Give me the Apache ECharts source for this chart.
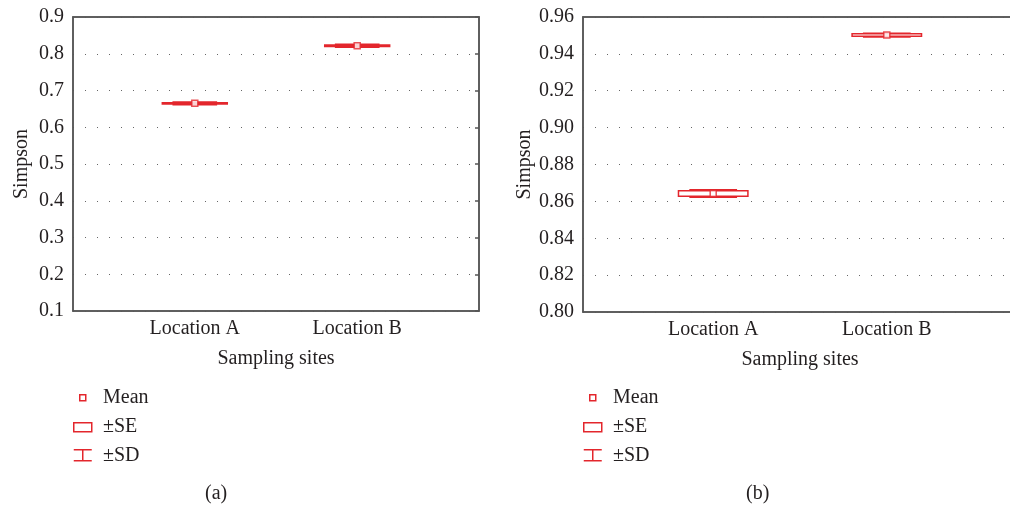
<!DOCTYPE html>
<html>
<head>
<meta charset="utf-8">
<script src="https://cdn.jsdelivr.net/npm/echarts@6/dist/echarts.min.js"></script>
<style>
  html, body { margin: 0; padding: 0; background: #fff; }
  #main { width: 1010px; height: 506px; }
</style>
</head>
<body>
<div id="main"></div>
<script>
// x slots: the two sites sit in the 2nd and 4th of five slots
var slots = ['', 'Location A', ' ', 'Location B', '  '];
var sites = ['Location A', 'Location B'];

// panel (a)
var meanA = [0.665, 0.822];
var seA = [0.002, 0.002];
var sdA = [0.004, 0.004];

// panel (b)
var meanB = [0.8643, 0.9502];
var seB = [0.0015, 0.0007];
var sdB = [0.0020, 0.0010];

var RED = '#e3262c';
var INK = '#231f20';
var AXIS = '#555';
var FONT = 'Liberation Serif';
var FS = 20;

function rows(means, errs) {
    return sites.map(function (s, i) { return [s, means[i], errs[i]]; });
}

function renderSE(params, api) {
    var hi = api.coord([api.value(0), api.value(1) + api.value(2)]);
    var lo = api.coord([api.value(0), api.value(1) - api.value(2)]);
    var w = api.size([1, 0])[0] * 0.8;
    return {
        type: 'rect',
        shape: { x: hi[0] - w / 2, y: hi[1], width: w, height: lo[1] - hi[1] },
        style: { fill: '#fff', stroke: RED, lineWidth: 1.5 }
    };
}

function renderSD(params, api) {
    var hi = api.coord([api.value(0), api.value(1) + api.value(2)]);
    var lo = api.coord([api.value(0), api.value(1) - api.value(2)]);
    var w = api.size([1, 0])[0] * 0.55;
    var st = { stroke: RED, lineWidth: 1.5 };
    return {
        type: 'group',
        children: [
            { type: 'line', shape: { x1: hi[0], y1: hi[1], x2: lo[0], y2: lo[1] }, style: st },
            { type: 'line', shape: { x1: hi[0] - w / 2, y1: hi[1], x2: hi[0] + w / 2, y2: hi[1] }, style: st },
            { type: 'line', shape: { x1: lo[0] - w / 2, y1: lo[1], x2: lo[0] + w / 2, y2: lo[1] }, style: st }
        ]
    };
}

function xAxes(g) {
    return [{
        type: 'category', gridIndex: g, data: slots, position: 'bottom',
        name: 'Sampling sites', nameLocation: 'middle', nameGap: 38,
        nameTextStyle: { fontFamily: FONT, fontSize: FS, color: INK },
        axisLine: { lineStyle: { color: AXIS, width: 1.5 } },
        axisTick: { inside: true, alignWithLabel: true, interval: 0, length: 4, lineStyle: { color: AXIS, width: 1.5 } },
        axisLabel: { interval: 0, margin: 8, fontFamily: FONT, fontSize: FS, color: INK },
        splitLine: { show: false }
    }, {
        type: 'category', gridIndex: g, data: slots, position: 'top',
        axisLine: { lineStyle: { color: AXIS, width: 1.5 } },
        axisTick: { inside: true, alignWithLabel: true, interval: 0, length: 4, lineStyle: { color: AXIS, width: 1.5 } },
        axisLabel: { show: false },
        splitLine: { show: false }
    }];
}

function yAxes(g, min, max, step, dec) {
    return [{
        type: 'value', gridIndex: g, min: min, max: max, interval: step, position: 'left',
        name: 'Simpson', nameLocation: 'middle', nameRotate: 90, nameGap: 41,
        nameTextStyle: { fontFamily: FONT, fontSize: FS, color: INK },
        axisLine: { show: true, lineStyle: { color: AXIS, width: 1.5 } },
        axisTick: { show: false },
        axisLabel: { margin: 9, fontFamily: FONT, fontSize: FS, color: INK,
            formatter: function (v) { return v.toFixed(dec); } },
        splitLine: { show: true, lineStyle: { color: '#666', width: 1, type: [1, 11] } }
    }, {
        type: 'value', gridIndex: g, min: min, max: max, interval: step, position: 'right',
        axisLine: { show: true, lineStyle: { color: AXIS, width: 1.5 } },
        axisTick: { show: true, inside: true, length: 4, lineStyle: { color: AXIS, width: 1.5 } },
        axisLabel: { show: false },
        splitLine: { show: false }
    }];
}

function panelSeries(g, means, ses, sds) {
    return [{
        name: '±SD', type: 'custom', xAxisIndex: g * 2, yAxisIndex: g * 2,
        renderItem: renderSD, data: rows(means, sds), z: 2
    }, {
        name: '±SE', type: 'custom', xAxisIndex: g * 2, yAxisIndex: g * 2,
        renderItem: renderSE, data: rows(means, ses), z: 3
    }, {
        name: 'Mean', type: 'scatter', xAxisIndex: g * 2, yAxisIndex: g * 2,
        symbol: 'rect', symbolSize: 6,
        itemStyle: { color: '#fff', borderColor: RED, borderWidth: 1.5 },
        data: sites.map(function (s, i) { return [s, means[i]]; }), z: 4
    }];
}

function legendBlock(x0) {
    var ts = { fontFamily: FONT, fontSize: FS, fill: INK };
    var st = { fill: '#fff', stroke: RED, lineWidth: 1.5 };
    return [
        { type: 'rect', left: x0 + 6, top: 394, shape: { width: 6, height: 6 }, style: st },
        { type: 'text', left: x0 + 30, top: 388, style: Object.assign({ text: 'Mean' }, ts) },
        { type: 'rect', left: x0, top: 422, shape: { width: 18, height: 9 }, style: st },
        { type: 'text', left: x0 + 30, top: 417, style: Object.assign({ text: '±SE' }, ts) },
        { type: 'group', left: x0, top: 449, children: [
            { type: 'line', shape: { x1: 0, y1: 0, x2: 18, y2: 0 }, style: st },
            { type: 'line', shape: { x1: 9, y1: 0, x2: 9, y2: 11 }, style: st },
            { type: 'line', shape: { x1: 0, y1: 11, x2: 18, y2: 11 }, style: st }
        ] },
        { type: 'text', left: x0 + 30, top: 446, style: Object.assign({ text: '±SD' }, ts) }
    ];
}

var chart = echarts.init(document.getElementById('main'));
chart.setOption({
    animation: false,
    grid: [
        { left: 73, top: 17, width: 406, height: 294, outerBoundsMode: 'none',
          show: true, borderColor: AXIS, borderWidth: 1.5 },
        { left: 583, top: 17, width: 434, height: 295, outerBoundsMode: 'none',
          show: true, borderColor: AXIS, borderWidth: 1.5 }
    ],
    xAxis: xAxes(0).concat(xAxes(1)),
    yAxis: yAxes(0, 0.1, 0.9, 0.1, 1).concat(yAxes(1, 0.8, 0.96, 0.02, 2)),
    series: panelSeries(0, meanA, seA, sdA).concat(panelSeries(1, meanB, seB, sdB)),
    graphic: legendBlock(73).concat(legendBlock(583)).concat([
        { type: 'text', left: 205, top: 484, style: { text: '(a)', fontFamily: FONT, fontSize: FS, fill: INK } },
        { type: 'text', left: 746, top: 484, style: { text: '(b)', fontFamily: FONT, fontSize: FS, fill: INK } }
    ])
});
</script>
</body>
</html>
